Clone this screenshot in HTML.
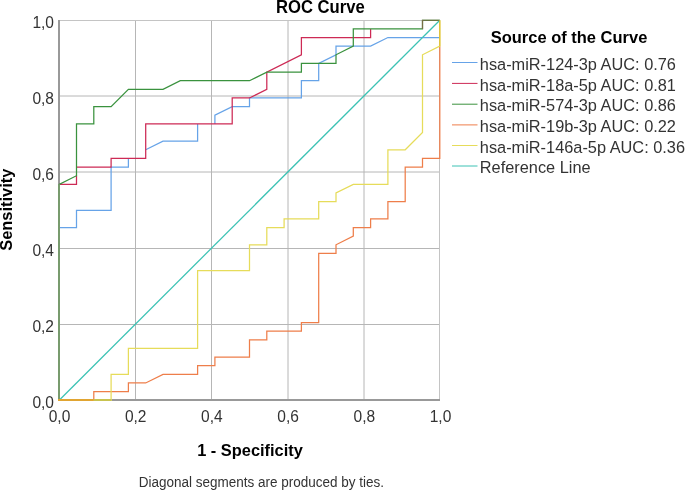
<!DOCTYPE html>
<html><head><meta charset="utf-8"><style>
html,body{margin:0;padding:0;background:#fff;}
body{width:685px;height:491px;overflow:hidden;position:relative;}
svg{position:absolute;left:0;top:0;will-change:transform;}
.t{font-family:"Liberation Sans",sans-serif;font-size:16.2px;fill:#333;}
.b{font-family:"Liberation Sans",sans-serif;font-size:16.2px;font-weight:bold;fill:#000;}
.f{font-family:"Liberation Sans",sans-serif;font-size:13.5px;fill:#333;}
</style></head><body>
<svg width="685" height="491" viewBox="0 0 685 491">
<line x1="135.5" y1="20" x2="135.5" y2="400" stroke="#b6b6b6" stroke-width="1"/>
<line x1="211.5" y1="20" x2="211.5" y2="400" stroke="#b6b6b6" stroke-width="1"/>
<line x1="288.0" y1="20" x2="288.0" y2="400" stroke="#b6b6b6" stroke-width="1"/>
<line x1="364.0" y1="20" x2="364.0" y2="400" stroke="#b6b6b6" stroke-width="1"/>
<line x1="59" y1="324.5" x2="440" y2="324.5" stroke="#b6b6b6" stroke-width="1"/>
<line x1="59" y1="248.5" x2="440" y2="248.5" stroke="#b6b6b6" stroke-width="1"/>
<line x1="59" y1="172.0" x2="440" y2="172.0" stroke="#b6b6b6" stroke-width="1"/>
<line x1="59" y1="96.0" x2="440" y2="96.0" stroke="#b6b6b6" stroke-width="1"/>
<line x1="59" y1="20.5" x2="440" y2="20.5" stroke="#c4c4c4" stroke-width="1"/>
<line x1="439.5" y1="20" x2="439.5" y2="400" stroke="#c4c4c4" stroke-width="1"/>
<line x1="59" y1="20" x2="59" y2="401" stroke="#999" stroke-width="2"/>
<line x1="58" y1="400" x2="440" y2="400" stroke="#999" stroke-width="2"/>
<path d="M59.20 227.52L76.50 227.52L76.50 218.89L76.50 210.25L93.80 210.25L111.10 210.25L111.10 201.61L111.10 192.98L111.10 184.34L111.10 175.70L111.10 167.07L128.40 167.07L128.40 158.43M145.70 149.80L163.00 141.16L180.30 141.16L197.60 141.16L197.60 132.52L197.60 123.89M214.90 123.89L214.90 115.25L232.20 106.61L249.50 106.61L249.50 97.98L266.80 97.98L284.10 97.98L301.40 97.98L301.40 89.34L301.40 80.70L318.70 80.70L318.70 72.07L318.70 63.43L336.00 54.80L336.00 46.16L353.30 46.16L370.60 46.16L387.90 37.52L405.20 37.52L422.50 37.52L439.80 37.52" fill="none" stroke="#66a3e8" stroke-width="1.25"/>
<path d="M59.20 184.34L76.50 184.34L76.50 175.70M76.50 167.07L93.80 167.07L111.10 167.07L111.10 158.43L128.40 158.43L145.70 158.43L145.70 149.80L145.70 141.16L145.70 132.52L145.70 123.89L163.00 123.89L180.30 123.89L197.60 123.89L214.90 123.89L232.20 123.89L232.20 115.25L232.20 106.61L232.20 97.98L249.50 97.98L266.80 89.34L266.80 80.70L266.80 72.07L301.40 54.80L301.40 46.16L301.40 37.52L318.70 37.52L336.00 37.52L353.30 37.52L370.60 37.52L370.60 28.89" fill="none" stroke="#cd2a55" stroke-width="1.25"/>
<path d="M59.20 400.25L59.20 391.61L59.20 382.98L59.20 374.34L59.20 365.70L59.20 357.07L59.20 348.43L59.20 339.80L59.20 331.16L59.20 322.52L59.20 313.89L59.20 305.25L59.20 296.61L59.20 287.98L59.20 279.34L59.20 270.70L59.20 262.07L59.20 253.43L59.20 244.80L59.20 236.16L59.20 227.52L59.20 218.89L59.20 210.25L59.20 201.61L59.20 192.98L59.20 184.34L76.50 175.70L76.50 167.07L76.50 158.43L76.50 149.80L76.50 141.16L76.50 132.52L76.50 123.89L93.80 123.89L93.80 115.25L93.80 106.61L111.10 106.61L128.40 89.34L145.70 89.34L163.00 89.34L180.30 80.70L197.60 80.70L214.90 80.70L232.20 80.70L249.50 80.70L266.80 72.07L284.10 72.07L301.40 72.07L301.40 63.43L318.70 63.43L336.00 63.43L336.00 54.80L353.30 46.16L353.30 37.52L353.30 28.89L370.60 28.89L387.90 28.89L405.20 28.89L422.50 28.89L422.50 20.25L439.80 20.25" fill="none" stroke="#3a923e" stroke-width="1.25"/>
<path d="M93.80 400.25L93.80 391.61L111.10 391.61L128.40 391.61L128.40 382.98L145.70 382.98L163.00 374.34L180.30 374.34L197.60 374.34L197.60 365.70L214.90 365.70L214.90 357.07L232.20 357.07L249.50 357.07L249.50 348.43L249.50 339.80L266.80 339.80L266.80 331.16L284.10 331.16L301.40 331.16L301.40 322.52L318.70 322.52L318.70 313.89L318.70 305.25L318.70 296.61L318.70 287.98L318.70 279.34L318.70 270.70L318.70 262.07L318.70 253.43L336.00 253.43L336.00 244.80L353.30 236.16L353.30 227.52L370.60 227.52L370.60 218.89L387.90 218.89L387.90 210.25L387.90 201.61L405.20 201.61L405.20 192.98L405.20 184.34L405.20 175.70L405.20 167.07L422.50 167.07L422.50 158.43L439.80 158.43L439.80 149.80L439.80 141.16L439.80 132.52L439.80 123.89L439.80 115.25L439.80 106.61L439.80 97.98L439.80 89.34L439.80 80.70L439.80 72.07L439.80 63.43L439.80 54.80L439.80 46.16" fill="none" stroke="#ee7e4a" stroke-width="1.25"/>
<path d="M59.20 400.25L76.50 400.25L93.80 400.25L111.10 400.25L111.10 391.61L111.10 382.98L111.10 374.34L128.40 374.34L128.40 365.70L128.40 357.07L128.40 348.43L145.70 348.43L163.00 348.43L180.30 348.43L197.60 348.43L197.60 339.80L197.60 331.16L197.60 322.52L197.60 313.89L197.60 305.25L197.60 296.61L197.60 287.98L197.60 279.34L197.60 270.70L214.90 270.70L232.20 270.70L249.50 270.70L249.50 262.07L249.50 253.43L249.50 244.80L266.80 244.80L266.80 236.16L266.80 227.52L284.10 227.52L284.10 218.89L301.40 218.89L318.70 218.89L318.70 210.25L318.70 201.61L336.00 201.61L336.00 192.98L353.30 184.34L370.60 184.34L387.90 184.34L387.90 175.70L387.90 167.07L387.90 158.43L387.90 149.80L405.20 149.80L422.50 132.52L422.50 123.89L422.50 115.25L422.50 106.61L422.50 97.98L422.50 89.34L422.50 80.70L422.50 72.07L422.50 63.43L422.50 54.80L439.80 46.16L439.80 37.52L439.80 28.89L439.80 20.25" fill="none" stroke="#e6dc5a" stroke-width="1.25"/>
<line x1="59.2" y1="400.25" x2="439.8" y2="20.25" stroke="#3cc2b4" stroke-width="1.25"/>
<rect x="58" y="184.34" width="2" height="215.66" fill="#789b6e"/>
<rect x="58" y="399" width="35.80" height="2" fill="#e1a532"/>
<rect x="93.80" y="399" width="17.30" height="2" fill="#c8c350"/>
<polyline points="422.50,28.89 422.50,20.25 439.80,20.25" fill="none" stroke="#786e46" stroke-width="1.2"/>
<line x1="439.80" y1="46.16" x2="439.80" y2="20.25" stroke="#e1be32" stroke-width="1.2"/>
<line x1="452" y1="62.5" x2="477.5" y2="62.5" stroke="#66a3e8" stroke-width="1"/>
<line x1="452" y1="83.4" x2="477.5" y2="83.4" stroke="#cd2a55" stroke-width="1"/>
<line x1="452" y1="104.2" x2="477.5" y2="104.2" stroke="#3a923e" stroke-width="1"/>
<line x1="452" y1="124.9" x2="477.5" y2="124.9" stroke="#ee7e4a" stroke-width="1"/>
<line x1="452" y1="145.5" x2="477.5" y2="145.5" stroke="#e6dc5a" stroke-width="1"/>
<line x1="452" y1="166.0" x2="477.5" y2="166.0" stroke="#3cc2b4" stroke-width="1"/>
<text transform="translate(54.00,408.00) scale(0.96,1.05)" text-anchor="end" class="t">0,0</text>
<text transform="translate(59.50,421.50) scale(0.96,1.05)" text-anchor="middle" class="t">0,0</text>
<text transform="translate(54.00,332.00) scale(0.96,1.05)" text-anchor="end" class="t">0,2</text>
<text transform="translate(135.70,421.50) scale(0.96,1.05)" text-anchor="middle" class="t">0,2</text>
<text transform="translate(54.00,256.00) scale(0.96,1.05)" text-anchor="end" class="t">0,4</text>
<text transform="translate(211.90,421.50) scale(0.96,1.05)" text-anchor="middle" class="t">0,4</text>
<text transform="translate(54.00,180.00) scale(0.96,1.05)" text-anchor="end" class="t">0,6</text>
<text transform="translate(288.10,421.50) scale(0.96,1.05)" text-anchor="middle" class="t">0,6</text>
<text transform="translate(54.00,104.00) scale(0.96,1.05)" text-anchor="end" class="t">0,8</text>
<text transform="translate(364.30,421.50) scale(0.96,1.05)" text-anchor="middle" class="t">0,8</text>
<text transform="translate(54.00,28.00) scale(0.96,1.05)" text-anchor="end" class="t">1,0</text>
<text transform="translate(440.50,421.50) scale(0.96,1.05)" text-anchor="middle" class="t">1,0</text>
<text transform="translate(320.35,13.00) scale(1.0,1.05)" text-anchor="middle" class="b" style="font-size:16.64px">ROC Curve</text>
<text transform="translate(250.00,455.90) scale(1.0,1.05)" text-anchor="middle" class="b" style="font-size:16.4px">1 - Specificity</text>
<text transform="translate(12.30,209.70) rotate(-90) scale(1.0,1.05)" text-anchor="middle" class="b" style="font-size:16.4px">Sensitivity</text>
<text transform="translate(261.40,486.60) scale(1.0,1.05)" text-anchor="middle" class="f" style="font-size:13.5px">Diagonal segments are produced by ties.</text>
<text transform="translate(569.00,43.00) scale(1.0,1.05)" text-anchor="middle" class="b" style="font-size:16.5px">Source of the Curve</text>
<text transform="translate(479.80,69.90) scale(1.0,1.05)" text-anchor="start" class="t" style="font-size:16.35px">hsa-miR-124-3p AUC: 0.76</text>
<text transform="translate(479.80,90.56) scale(1.0,1.05)" text-anchor="start" class="t" style="font-size:16.35px">hsa-miR-18a-5p AUC: 0.81</text>
<text transform="translate(479.80,111.22) scale(1.0,1.05)" text-anchor="start" class="t" style="font-size:16.35px">hsa-miR-574-3p AUC: 0.86</text>
<text transform="translate(479.80,131.88) scale(1.0,1.05)" text-anchor="start" class="t" style="font-size:16.35px">hsa-miR-19b-3p AUC: 0.22</text>
<text transform="translate(479.80,152.54) scale(1.0,1.05)" text-anchor="start" class="t" style="font-size:16.35px">hsa-miR-146a-5p AUC: 0.36</text>
<text transform="translate(479.80,173.20) scale(1.0,1.05)" text-anchor="start" class="t" style="font-size:16.35px">Reference Line</text>
</svg>
</body></html>
